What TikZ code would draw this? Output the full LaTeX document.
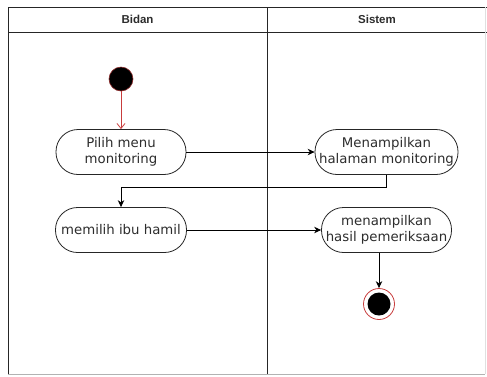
\documentclass[tikz,border=0pt]{standalone}
\usepackage{fontspec}
\setmainfont{DejaVu Sans}
\newfontfamily\hdrfont{Liberation Sans}
\usetikzlibrary{arrows.meta}
\definecolor{redline}{RGB}{200,60,60}
\definecolor{txt}{RGB}{45,45,45}
\begin{document}
\begin{tikzpicture}[x=1pt,y=-1pt,
  act/.style={draw=black!85, line width=0.8pt, rounded corners=22pt, minimum height=45pt,
    align=center, text=txt, font=\fontsize{13.3}{16.5}\selectfont, inner sep=0pt},
  flow/.style={draw=black, line width=0.8pt, -{Stealth[length=7pt,width=6.5pt]}},
  hdr/.style={font=\hdrfont\bfseries\fontsize{11.5}{13}\selectfont, text=txt},
  lane/.style={draw=black!85, line width=0.9pt}]
\useasboundingbox (0,0) rectangle (487,376);
\fill[white] (0,0) rectangle (487,376);
% swimlane frame
\draw[lane] (8,374) -- (8,7) -- (487,7);
\draw[lane] (8,32) -- (487,32);
\draw[lane] (267,7) -- (267,374);
\draw[black!30, line width=0.9pt] (8,374) -- (485,374);
\draw[black!12, line width=0.9pt] (485,7) -- (485,374);
\node[hdr] (h1) at (137.5,19.5) {Bidan};
\node[hdr] (h2) at (377,19.5) {Sistem};
% activities
\node[act, minimum width=130pt] (a1) at (121,152) {Pilih menu\\monitoring};
\node[act, minimum width=143pt] (a2) at (386.5,152) {Menampilkan\\halaman monitoring};
\node[act, minimum width=131pt] (a3) at (121,230) {memilih ibu hamil};
\node[act, minimum width=130pt] (a4) at (386.5,230) {menampilkan\\hasil pemeriksaan};
% start / end
\node[circle, fill=black, draw=redline!70!black, line width=0.6pt, minimum size=24pt, inner sep=0pt] (s) at (121,79) {};
\node[circle, draw=redline, fill=white, line width=0.8pt, minimum size=31pt, inner sep=0pt] (e) at (379,304) {};
\node[circle, fill=black, minimum size=23pt, inner sep=0pt] (ei) at (e) {};
% flows
\draw[redline, line width=0.8pt, -{Straight Barb[length=5pt,width=8pt]}] (s) -- (a1);
\draw[flow] (a1.east) -- (a1.east -| a2.west);
\draw[flow] (a2.south) -- ++(0,12) -| (a3.north);
\draw[flow] (a3.east) -- (a3.east -| a4.west);
\draw[flow] (a4.south -| e.north) -- (e.north);
\end{tikzpicture}
\end{document}
